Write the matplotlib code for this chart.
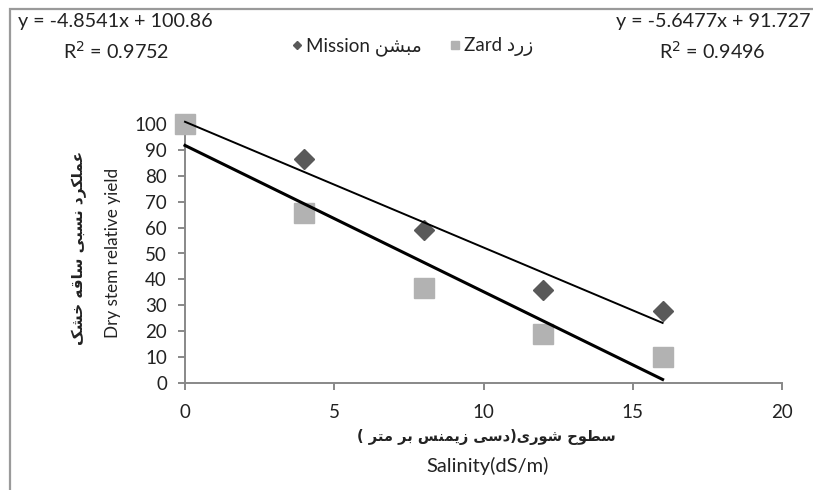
import matplotlib
matplotlib.use("Agg")
import matplotlib.pyplot as plt
from matplotlib.patches import Rectangle
import numpy as np

plt.rcParams['font.family'] = ['Lato', 'DejaVu Sans']

# ---------------- data ----------------
salinity = [0, 4, 8, 12, 16]
mission = [100, 86.4, 59.1, 35.9, 27.8]
zard = [100, 65.7, 36.8, 18.9, 10.2]
mission_fit = [-4.8541, 100.86]   # slope, intercept
zard_fit = [-5.6477, 91.727]
mission_r2 = 0.9752
zard_r2 = 0.9496
xticks = [0, 5, 10, 15, 20]
yticks = [0, 10, 20, 30, 40, 50, 60, 70, 80, 90, 100]

name_mission_fa = "مبشن"
name_zard_fa = "زرد"
ylabel_fa = "عملکرد نسبی ساقه خشک"
xlabel_fa = "سطوح شوری(دسی زیمنس بر متر )"
ylabel_en = "Dry stem relative yield"
xlabel_en = "Salinity(dS/m)"

# ---------------- simple Persian shaping (presentation forms, visual order) ----------------
FORMS = {
    'ا': (0xFE8D, 0xFE8E, None, None),
    'ب': (0xFE8F, 0xFE90, 0xFE91, 0xFE92),
    'ت': (0xFE95, 0xFE96, 0xFE97, 0xFE98),
    'ح': (0xFEA1, 0xFEA2, 0xFEA3, 0xFEA4),
    'خ': (0xFEA5, 0xFEA6, 0xFEA7, 0xFEA8),
    'د': (0xFEA9, 0xFEAA, None, None),
    'ر': (0xFEAD, 0xFEAE, None, None),
    'ز': (0xFEAF, 0xFEB0, None, None),
    'س': (0xFEB1, 0xFEB2, 0xFEB3, 0xFEB4),
    'ش': (0xFEB5, 0xFEB6, 0xFEB7, 0xFEB8),
    'ط': (0xFEC1, 0xFEC2, 0xFEC3, 0xFEC4),
    'ع': (0xFEC9, 0xFECA, 0xFECB, 0xFECC),
    'ق': (0xFED5, 0xFED6, 0xFED7, 0xFED8),
    'ل': (0xFEDD, 0xFEDE, 0xFEDF, 0xFEE0),
    'م': (0xFEE1, 0xFEE2, 0xFEE3, 0xFEE4),
    'ن': (0xFEE5, 0xFEE6, 0xFEE7, 0xFEE8),
    'ه': (0xFEE9, 0xFEEA, 0xFEEB, 0xFEEC),
    'و': (0xFEED, 0xFEEE, None, None),
    'ی': (0xFBFC, 0xFBFD, 0xFBFE, 0xFBFF),
    'ک': (0xFB8E, 0xFB8F, 0xFB90, 0xFB91),
}
MIRROR = {'(': ')', ')': '('}


def shape(text):
    out = []
    n = len(text)
    for i, ch in enumerate(text):
        if ch not in FORMS:
            out.append(ch)
            continue
        prev = text[i - 1] if i > 0 else None
        nxt = text[i + 1] if i < n - 1 else None
        jp = prev in FORMS and FORMS[prev][2] is not None
        jn = nxt in FORMS and FORMS[ch][2] is not None
        iso, fin, ini, med = FORMS[ch]
        if jp and jn:
            out.append(chr(med))
        elif jp:
            out.append(chr(fin))
        elif jn:
            out.append(chr(ini))
        else:
            out.append(chr(iso))
    return ''.join(MIRROR.get(c, c) for c in reversed(out))


W, H = 813, 490
fig = plt.figure(figsize=(W / 100, H / 100), dpi=100)


def fx(px):
    return px / W


def fy(py):
    return 1 - py / H


# outer chart border (partially cropped)
fig.patches.append(Rectangle((fx(10), fy(560)), 1.2, fy(9) - fy(560), transform=fig.transFigure,
                             fill=False, edgecolor='#9a9a9a', linewidth=1.6, zorder=0))

ax = fig.add_axes([fx(185), fy(383), fx(782) - fx(185), fy(124) - fy(383)])

axis_col = '#888888'
sq_col = '#b2b2b2'
dm_col = '#595959'
txt_col = '#222222'

h_m = ax.plot(salinity, mission, linestyle='none', marker='D', markersize=10.5,
              color=dm_col, clip_on=False, zorder=3)[0]
h_z = ax.plot(salinity, zard, linestyle='none', marker='s', markersize=14.5,
              color=sq_col, clip_on=False, zorder=4)[0]

xs = np.array([salinity[0], salinity[-1]])
ax.plot(xs, mission_fit[0] * xs + mission_fit[1], color='black', linewidth=1.4,
        clip_on=False, zorder=5)
ax.plot(xs, zard_fit[0] * xs + zard_fit[1], color='black', linewidth=2.2,
        clip_on=False, zorder=5)

ax.set_xlim(0, 20)
ax.set_ylim(0, 100)
ax.set_xticks(xticks)
ax.set_yticks(yticks)
for s in ['top', 'right']:
    ax.spines[s].set_visible(False)
for s in ['left', 'bottom']:
    ax.spines[s].set_color(axis_col)
    ax.spines[s].set_linewidth(1.4)
    ax.spines[s].set_zorder(1)
ax.tick_params(axis='both', direction='out', length=5, width=1.4, color=axis_col,
               labelsize=13.5, labelcolor=txt_col)
ax.tick_params(axis='x', pad=10)
ax.tick_params(axis='y', pad=8)
ax.patch.set_alpha(0)

# axis labels
fig.text(fx(79), fy(248), shape(ylabel_fa), rotation=90, ha='center', va='center',
         fontsize=11, fontweight='bold', family=['DejaVu Sans'], color=txt_col)
fig.text(fx(113), fy(253), ylabel_en, rotation=90, ha='center', va='center',
         fontsize=12.3, color=txt_col)
fig.text(fx(486), fy(437), shape(xlabel_fa), ha='center', va='center',
         fontsize=10.5, fontweight='bold', family=['DejaVu Sans'], color=txt_col)
fig.text(fx(488), fy(466), xlabel_en, ha='center', va='center',
         fontsize=14.5, color=txt_col)

# trendline equations
eq_fs = 14.2
fig.text(fx(115), fy(21), f"y = {mission_fit[0]}x + {mission_fit[1]}", ha='center', va='center',
         fontsize=eq_fs, color=txt_col)
fig.text(fx(116), fy(51), f"R$^2$ = {mission_r2}", ha='center', va='center',
         fontsize=eq_fs, color=txt_col)
fig.text(fx(713), fy(21), f"y = {zard_fit[0]}x + {zard_fit[1]}", ha='center', va='center',
         fontsize=eq_fs, color=txt_col)
fig.text(fx(712), fy(51), f"R$^2$ = {zard_r2}", ha='center', va='center',
         fontsize=eq_fs, color=txt_col)

# legend
leg = fig.legend([h_m, h_z], ["Mission " + shape(name_mission_fa), "Zard " + shape(name_zard_fa)],
                 loc='center', bbox_to_anchor=(fx(413), fy(47)), ncol=2, frameon=False,
                 markerscale=0.42, handlelength=0.5, handletextpad=0.25, columnspacing=1.5,
                 fontsize=13.5)
for t in leg.get_texts():
    t.set_color(txt_col)

fig.savefig('out.png', dpi=100)
